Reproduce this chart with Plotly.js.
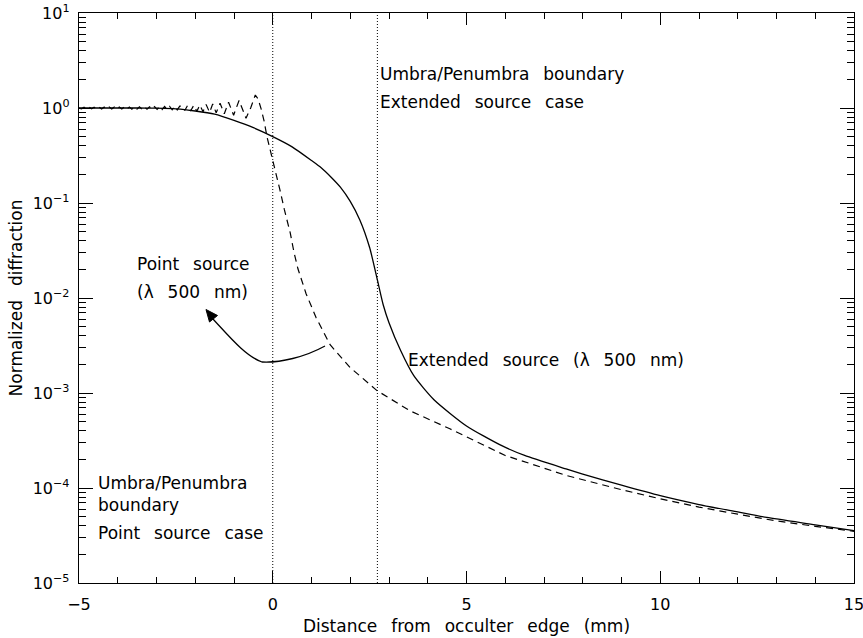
<!DOCTYPE html>
<html>
<head>
<meta charset="utf-8">
<script src="https://cdn.plot.ly/plotly-3.0.1.min.js"></script>
<style>html,body{margin:0;padding:0;background:#fff;}#chart{width:863px;height:638px;}</style>
</head>
<body>
<div id="chart"></div>
<script>
// ---- Data ----
// Extended source (solid)
const extX = [-5, -4, -3.5, -3, -2.5, -2, -1.5, -1, -0.5, 0, 0.5, 1, 1.25, 1.5, 1.75, 2, 2.25, 2.5, 2.7, 2.85, 3.0, 3.3, 3.64, 4.16, 5.0, 5.87, 6.5, 7.59, 8, 9, 10, 11, 12, 12.75, 14, 15];
const extY = [1.0, 1.0, 1.0, 0.995, 0.98, 0.93, 0.86, 0.74, 0.62, 0.5, 0.39, 0.28, 0.235, 0.188, 0.146, 0.104, 0.066, 0.034, 0.0155, 0.0085, 0.0055, 0.0028, 0.00152, 0.00085, 0.00045, 0.000284, 0.00022, 0.000158, 0.00014, 0.000107, 0.000083, 0.000067, 0.000056, 0.000049, 0.000041, 0.0000355];

// Point source (dashed)
const ptX = [-5.00, -4.935, -4.87, -4.805, -4.74, -4.675, -4.61, -4.545, -4.48, -4.415, -4.35, -4.285, -4.22, -4.155, -4.09, -4.025, -3.96, -3.895, -3.83, -3.765, -3.70, -3.635, -3.57, -3.505, -3.44, -3.375, -3.31, -3.245, -3.18, -3.115, -3.05, -2.985, -2.92, -2.855, -2.79, -2.725, -2.66, -2.595, -2.53, -2.465, -2.40,
  -2.34, -2.27, -2.20, -2.12, -2.04, -1.96, -1.88, -1.80, -1.72, -1.63, -1.55, -1.46, -1.36, -1.25, -1.14, -1.01, -0.87, -0.69, -0.57, -0.45, -0.38, -0.30, -0.22, -0.15, -0.07, 0,
  0.10, 0.19, 0.30, 0.45, 0.55, 0.65, 0.86, 1.12, 1.48, 2.0, 2.69, 3.54, 4.57, 5.53, 6.0, 7.59, 8, 9, 10, 11, 12, 13, 14, 15];
const ptY = [1.0, 0.98, 1.02, 0.98, 1.02, 0.98, 1.02, 0.978, 1.022, 0.978, 1.022, 0.978, 1.022, 0.976, 1.024, 0.976, 1.024, 0.975, 1.025, 0.974, 1.026, 0.973, 1.027, 0.972, 1.028, 0.971, 1.03, 0.97, 1.031, 0.968, 1.033, 0.966, 1.035, 0.964, 1.037, 0.962, 1.04, 0.958, 1.043, 0.955, 1.046,
  1.05, 0.94, 1.06, 0.93, 1.065, 0.925, 1.075, 0.915, 1.09, 0.90, 1.10, 0.89, 1.12, 0.87, 1.15, 0.84, 1.20, 0.78, 1.0, 1.37, 1.25, 0.98, 0.72, 0.5, 0.37, 0.27,
  0.19, 0.135, 0.085, 0.0487, 0.03, 0.0203, 0.0111, 0.0062, 0.00322, 0.00185, 0.00106, 0.00065, 0.00042, 0.00027, 0.00022, 0.000135, 0.000122, 0.000096, 0.000077, 0.000063, 0.000053, 0.000045, 0.0000395, 0.000035];

// Umbra/Penumbra boundaries (point source, extended source)
const boundaries = [0, 2.7];

const xTicks = [-5, 0, 5, 10, 15];
const yTickVals = [1e-5, 1e-4, 1e-3, 1e-2, 1e-1, 1e0, 1e1];
const yTickText = ['10<sup>−5</sup>', '10<sup>−4</sup>', '10<sup>−3</sup>', '10<sup>−2</sup>', '10<sup>−1</sup>', '10<sup>0</sup>', '10<sup>1</sup>'];

// ---- Layout helpers ----
const M = {l: 79, r: 9, t: 13, b: 55};
const W = 863, H = 638;
const PW = W - M.l - M.r, PH = H - M.t - M.b;
function fx(px) { return (px - M.l) / PW; }
function fy(py) { return (H - M.b - py) / PH; }
// wide word spacing, like the plotting font of the original
function wide(s) { return s.split(' ').join('\u00A0\u2002'); }

const minorY = [];
for (let e = -5; e < 1; e++) for (let m = 2; m <= 9; m++) minorY.push(m * Math.pow(10, e));

const FONT = 'DejaVu Sans, Verdana, sans-serif';
const TXT = {family: FONT, size: 17, color: '#000'};

const traces = [
  {x: extX, y: extY, type: 'scatter', mode: 'lines', name: 'Extended source',
   line: {color: '#000', width: 1.3, shape: 'spline', smoothing: 0.6}, showlegend: false, hoverinfo: 'skip'},
  {x: ptX, y: ptY, type: 'scatter', mode: 'lines', name: 'Point source',
   line: {color: '#000', width: 1.2, dash: '7px,5px'}, showlegend: false, hoverinfo: 'skip'},
  {x: [], y: [], type: 'scatter', mode: 'lines', xaxis: 'x2', yaxis: 'y2', showlegend: false, hoverinfo: 'skip'}
];

const shapes = boundaries.map(b => ({
  type: 'line', xref: 'x', yref: 'paper', x0: b, x1: b, y0: 0, y1: 1,
  line: {color: '#000', width: 1, dash: '1px,2px'}
}));

// curved arrow from the dashed curve to the "Point source" label
function P(px, py) { return fx(px).toFixed(5) + ',' + fy(py).toFixed(5); }
shapes.push({
  type: 'path', xref: 'paper', yref: 'paper',
  path: 'M ' + P(325, 346) + ' C ' + P(305, 357) + ' ' + P(280, 363) + ' ' + P(262, 362) +
        ' C ' + P(245, 356) + ' ' + P(228, 335) + ' ' + P(212, 318),
  line: {color: '#000', width: 1.3}
});
shapes.push({
  type: 'path', xref: 'paper', yref: 'paper',
  path: 'M ' + P(206, 309.5) + ' L ' + P(217.5, 315.5) + ' L ' + P(209.5, 322) + ' Z',
  fillcolor: '#000', line: {color: '#000', width: 1}
});

function ann(text, px, py) {
  return {text: wide(text), xref: 'paper', yref: 'paper', x: fx(px), y: fy(py),
          xanchor: 'left', yanchor: 'middle', showarrow: false, align: 'left',
          font: TXT};
}
const annotations = [
  ann('Umbra/Penumbra boundary', 378, 74),
  ann('Extended source case', 378, 102),
  ann('Point source', 135, 264),
  ann('(λ 500 nm)', 135, 292),
  ann('Extended source (λ 500 nm)', 406, 360),
  ann('Umbra/Penumbra', 96, 483),
  ann('boundary', 96, 505),
  ann('Point source case', 96, 533)
];

const axisCommon = {
  showgrid: false, zeroline: false, showline: true, linecolor: '#000', linewidth: 1.3,
  ticks: 'inside', tickwidth: 1, tickcolor: '#000'
};

const layout = {
  width: W, height: H, margin: M,
  paper_bgcolor: '#fff', plot_bgcolor: '#fff',
  font: {family: FONT, size: 16, color: '#000'},
  showlegend: false,
  xaxis: Object.assign({}, axisCommon, {
    range: [-5, 15], tickmode: 'array', tickvals: xTicks, ticktext: xTicks.map(v => v < 0 ? '−' + Math.abs(v) : String(v)),
    ticklen: 12,
    minor: {tickmode: 'linear', tick0: -5, dtick: 1, ticks: 'inside', ticklen: 6, tickwidth: 1, tickcolor: '#000', showgrid: false},
    mirror: false, ticklabelstandoff: 6, ticklabeloverflow: 'allow',
    tickfont: {family: FONT, size: 16, color: '#000'},
    title: {text: wide('Distance from occulter edge (mm)'), standoff: 7, font: TXT}
  }),
  yaxis: Object.assign({}, axisCommon, {
    type: 'log', range: [-5, 1], tickmode: 'array', tickvals: yTickVals, ticktext: yTickText,
    ticklen: 14,
    minor: {tickmode: 'array', tickvals: minorY, ticks: 'inside', ticklen: 7, tickwidth: 1, tickcolor: '#000', showgrid: false},
    mirror: false, ticklabelstandoff: 5,
    tickfont: {family: FONT, size: 16, color: '#000'},
    title: {text: wide('Normalized diffraction'), standoff: 5, font: TXT}
  }),
  xaxis2: Object.assign({}, axisCommon, {
    overlaying: 'x', side: 'top', anchor: 'y2', range: [-5, 15],
    tickmode: 'array', tickvals: xTicks, ticklen: 12, showticklabels: false,
    minor: {tickmode: 'linear', tick0: -5, dtick: 1, ticks: 'inside', ticklen: 6, tickwidth: 1, tickcolor: '#000', showgrid: false}
  }),
  yaxis2: Object.assign({}, axisCommon, {
    overlaying: 'y', side: 'right', anchor: 'x2', type: 'log', range: [-5, 1],
    tickmode: 'array', tickvals: yTickVals, ticklen: 14, showticklabels: false,
    minor: {tickmode: 'array', tickvals: minorY, ticks: 'inside', ticklen: 7, tickwidth: 1, tickcolor: '#000', showgrid: false}
  }),
  shapes: shapes,
  annotations: annotations
};

Plotly.newPlot('chart', traces, layout, {staticPlot: true, displayModeBar: false});
</script>
</body>
</html>
